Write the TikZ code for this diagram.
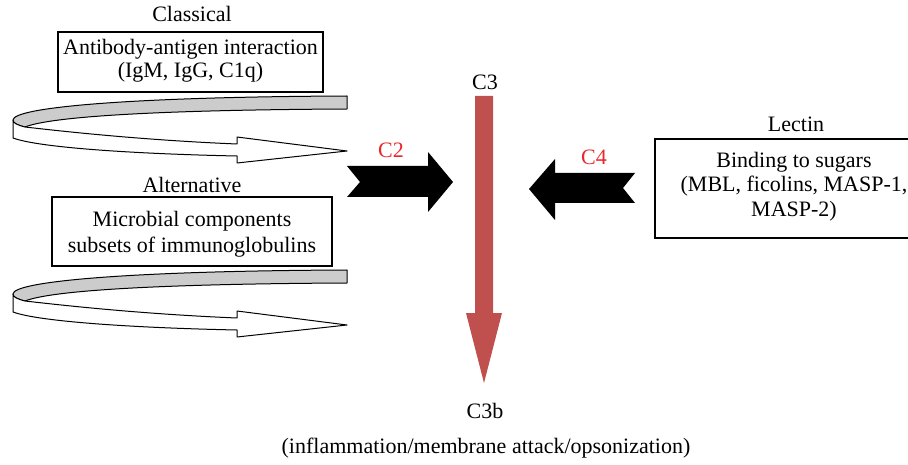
\documentclass[tikz,border=0pt]{standalone}
\usepackage{fontspec}
\setmainfont{Liberation Serif}
\begin{document}
\begin{tikzpicture}[x=1pt,y=-1pt,
  txt/.style={inner sep=0pt, anchor=base, font=\fontsize{22}{26}\selectfont},
  redtxt/.style={txt, text=labelred},
  boxst/.style={draw, line width=1.2pt, inner sep=0pt},
  ribbon/.style={draw, line width=1pt, line join=round},
  ]
\definecolor{labelred}{RGB}{232,40,44}
\definecolor{c3red}{RGB}{192,80,77}
\definecolor{ribbongray}{RGB}{204,204,204}
\useasboundingbox (0,0) rectangle (908,465);

% ---- boxes
\node[boxst, minimum width=265pt, minimum height=60pt] (box1) at (190.5,62) {};
\node[boxst, minimum width=280pt, minimum height=69pt] (box2) at (192,231.5) {};
\coordinate (box3nw) at (655,139);
\coordinate (box3sw) at (655,238);
\draw[line width=1.2pt] (908,139) -- (box3nw) -- (box3sw) -- (908,238);

% ---- texts
\node[txt] (classical) at (192,22) {Classical};
\node[txt] (t1a) at (190.5,55) {Antibody-antigen interaction};
\node[txt] (t1b) at (190.5,78) {(IgM, IgG, C1q)};
\node[txt] (alternative) at (192,193) {Alternative};
\node[txt] (t2a) at (192,227) {Microbial components};
\node[txt] (t2b) at (192,253) {subsets of immunoglobulins};
\node[txt] (lectin) at (796,132) {Lectin};
\node[txt] (t3a) at (794,168) {Binding to sugars};
\node[txt] (t3b) at (794,192) {(MBL, ficolins, MASP-1,};
\node[txt] (t3c) at (794,217) {MASP-2)};
\node[txt] (c3) at (485,90) {C3};
\node[txt] (c3b) at (485,418) {C3b};
\node[txt] (result) at (486,453) {(inflammation/membrane attack/opsonization)};
\node[redtxt] (c2) at (391,158) {C2};
\node[redtxt] (c4) at (594,165) {C4};

% ---- curled ribbon arrows
\foreach \dy/\nm in {0/rib1,174/rib2}{
\begin{scope}[shift={(0,\dy)}]
  \filldraw[ribbon, fill=ribbongray] (347,96) -- (347,109)
     .. controls (150,110) and (50,117) .. (25,127)
     .. controls (17,125) and (13,123) .. (13,120)
     .. controls (13,108) and (120,97) .. (347,96) -- cycle;
  \filldraw[ribbon, fill=white] (13,120) -- (13,138)
     .. controls (40,148) and (140,154) .. (237,156)
     -- (237,163) -- (347,151) -- (237,137) -- (237,144)
     .. controls (140,140) and (60,131) .. (25,127)
     .. controls (17,125) and (13,123) .. (13,120) -- cycle;
  \coordinate (\nm) at (347,151);
\end{scope}}

% ---- black block arrows
\fill[black] (347,166) -- (428,166) -- (428,152) -- (453,182) -- (428,212)
   -- (428,197) -- (347,197) -- (360,182) -- cycle;
\fill[black] (635,173) -- (555,173) -- (555,159) -- (529,189) -- (555,220)
   -- (555,203) -- (635,203) -- (623,188) -- cycle;

% ---- C3 -> C3b arrow
\coordinate (r0) at (484,96);
\coordinate (r1) at (484,383);
\fill[c3red] ([xshift=-9pt]r0) -- ([xshift=9pt]r0) -- (493,313) -- (502,313)
   -- (r1) -- (466,313) -- (475,313) -- cycle;
\end{tikzpicture}
\end{document}
